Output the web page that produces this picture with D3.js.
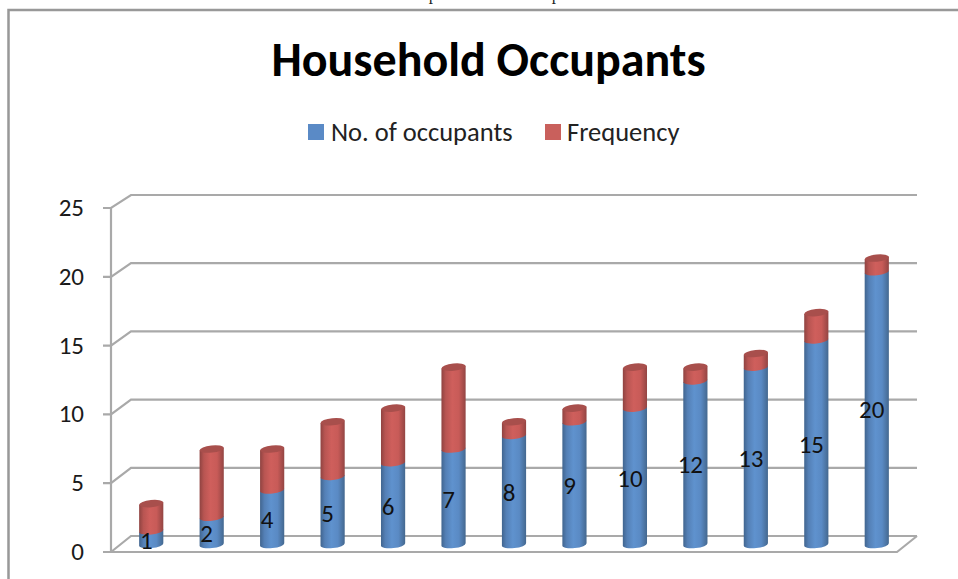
<!DOCTYPE html>
<html><head><meta charset="utf-8">
<script src="https://cdn.jsdelivr.net/npm/d3@7"></script>
<style>html,body{margin:0;padding:0;background:#fff}svg{display:block}</style>
</head><body><svg id="c" width="958" height="579"></svg>
<script>
const categories = ["1","2","4","5","6","7","8","9","10","12","13","15","20"];
const occupants = [1,2,4,5,6,7,8,9,10,12,13,15,20];
const frequency = [2,5,3,4,4,6,1,1,3,1,1,2,1];
const yTicks = [0,5,10,15,20,25];
const seriesNames = ["No. of occupants","Frequency"];
const font="Calibri, Carlito, 'Open Sans', 'Noto Sans', sans-serif";
const svg=d3.select("#c");
const defs=svg.append("defs");
function grad(id,stops){const g=defs.append("linearGradient").attr("id",id).attr("x1","0").attr("x2","1").attr("y1","0").attr("y2","0");
 stops.forEach(s=>g.append("stop").attr("offset",s[0]).attr("stop-color",s[1]));}
grad("blue",[[0,"#41658f"],[.18,"#5480b6"],[.45,"#5f92ce"],[.72,"#5a8ac4"],[1,"#44688f"]]);
grad("red",[[0,"#8f4341"],[.18,"#b85552"],[.45,"#cf5f5c"],[.72,"#c85b58"],[1,"#934543"]]);
const frame="#989898", grid="#a9a9a9";
svg.append("path").attr("d","M8.5,579V10H958").attr("fill","none").attr("stroke",frame).attr("stroke-width",2.5);
[433,556].forEach(x=>svg.append("text").attr("x",x).attr("y",-0.5).attr("text-anchor","middle")
 .attr("font-family","'Liberation Serif', serif").attr("font-size",17).attr("fill","#222").text("p"));

const yBack=d3.scaleLinear().domain([0,25]).range([536,195]);
const yFront=d3.scaleLinear().domain([0,25]).range([552,208]);
const yBar=d3.scaleLinear().domain([0,25]).range([544.5,203.5]);
const xBand=d3.scaleBand().domain(categories).range([121,907]).paddingInner(0.6).paddingOuter(0.3);
const xC=d=>xBand(d)+xBand.bandwidth()/2;
const r=xBand.bandwidth()/2, ry=3.6, ang=-6;

const gGrid=svg.append("g").attr("fill","none").attr("stroke",grid).attr("stroke-width",2.2);
yTicks.forEach(t=>{
 gGrid.append("path").attr("d",`M103,${yFront(t)}H111L131,${yBack(t)}H917`);
});
gGrid.append("path").attr("d",`M111,${yFront(0)}V${yFront(25)}`);
gGrid.append("path").attr("d",`M103,${yFront(0)}H897L917,${yBack(0)}`);

const tickG=svg.append("g").attr("font-family",font).attr("font-size",25).attr("fill","#1a1a1a").attr("text-anchor","end");
yTicks.forEach(t=>tickG.append("text").attr("x",84).attr("y",yFront(t)+8).text(t));

function seg(cx,y0,y1){
 const t=r*Math.tan(-ang*Math.PI/180);
 return `M${cx-r},${y1+t}L${cx+r},${y1-t}L${cx+r},${y0-t}A${r},${ry} ${ang} 0 1 ${cx-r},${y0+t}Z`;
}
const bars=svg.append("g");
categories.forEach((c,i)=>{
 const cx=xC(c), a=occupants[i], b=a+frequency[i];
 bars.append("path").attr("d",seg(cx,yBar(0),yBar(a))).attr("fill","url(#blue)");
 bars.append("path").attr("d",seg(cx,yBar(a),yBar(b))).attr("fill","url(#red)");
 bars.append("ellipse").attr("cx",cx).attr("cy",yBar(b)).attr("rx",r).attr("ry",ry)
   .attr("transform",`rotate(${ang} ${cx} ${yBar(b)})`).attr("fill","#a84f4c");
});
const labels=svg.append("g").attr("font-family",font).attr("font-size",25).attr("fill","#111").attr("text-anchor","middle");
categories.forEach((c,i)=>{
 labels.append("text").attr("x",xC(c)-5).attr("y",yFront(occupants[i]/2)+4).text(c);
});

svg.append("text").attr("x",488.5).attr("y",76).attr("text-anchor","middle").attr("font-family",font)
 .attr("font-size",48).attr("font-weight",700).attr("fill","#000").text("Household Occupants");
const colors=["#5a8ac6","#c9605c"], lx=[308,545], tx=[331,567];
seriesNames.forEach((s,i)=>{
 svg.append("rect").attr("x",lx[i]).attr("y",124).attr("width",16).attr("height",16).attr("fill",colors[i]);
 svg.append("text").attr("x",tx[i]).attr("y",141).attr("font-family",font).attr("font-size",26.5).attr("fill","#222").text(s);
});
</script></body></html>
